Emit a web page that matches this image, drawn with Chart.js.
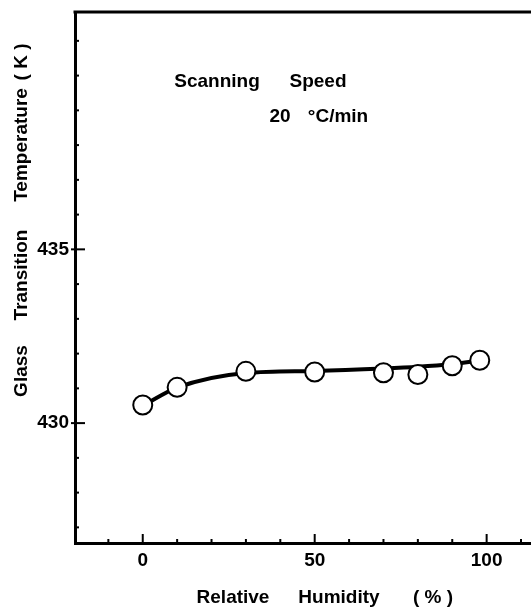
<!DOCTYPE html>
<html lang="en">
<head>
<meta charset="UTF-8">
<title>Glass Transition vs Relative Humidity</title>
<script src="https://cdn.jsdelivr.net/npm/chart.js"></script>
<style>
    body { margin: 0; background: #fff; }
    #wrap { width: 531px; height: 608px; }
</style>
</head>
<body>
<div id="wrap"><canvas id="myChart" width="531" height="608"></canvas></div>
<script>
// measured points (relative humidity %, Tg in K)
const humidity = [0, 10, 30, 50, 70, 80, 90, 98];
const tgValues = [430.52, 431.03, 431.49, 431.47, 431.45, 431.40, 431.65, 431.81];

// hand drawn smooth curve through the points
const curveX = [0, 10, 30, 50, 70, 80, 90, 98];
const curveY = [430.5, 431.02, 431.44, 431.5, 431.57, 431.62, 431.7, 431.8];

const xTickLabels = [0, 50, 100];
const yTickLabels = [430, 435];

const FONT = 'Liberation Sans';

// words placed by their centre, as in the figure
function words(ctx, list, y) {
    list.forEach(w => ctx.fillText(w[0], w[1], y));
}

// inward tick marks, frame top line and free text
const decor = {
    id: 'decor',
    afterDraw(chart) {
        const ctx = chart.ctx;
        const xs = chart.scales.x, ys = chart.scales.y;
        const a = chart.chartArea;
        ctx.save();
        ctx.strokeStyle = '#000';
        ctx.lineWidth = 2;
        for (let v = -10; v <= 110; v += 10) {
            const px = xs.getPixelForValue(v);
            const len = xTickLabels.includes(v) ? 9 : 4;
            ctx.beginPath();
            ctx.moveTo(px, a.bottom);
            ctx.lineTo(px, a.bottom - len);
            ctx.stroke();
        }
        for (let v = 427; v <= 441; v++) {
            const py = ys.getPixelForValue(v);
            const major = yTickLabels.includes(v);
            ctx.beginPath();
            ctx.moveTo(major ? a.left - 4 : a.left, py);
            ctx.lineTo(a.left + (major ? 10 : 4), py);
            ctx.stroke();
        }
        // top frame line
        ctx.lineWidth = 3;
        ctx.beginPath();
        ctx.moveTo(a.left - 1.5, a.top);
        ctx.lineTo(a.right, a.top);
        ctx.stroke();

        ctx.fillStyle = '#000';
        ctx.font = 'bold 19px ' + FONT;
        ctx.textBaseline = 'middle';
        ctx.textAlign = 'center';
        words(ctx, [['Scanning', 217], ['Speed', 318]], 82);
        words(ctx, [['20', 280], ['\u00b0C/min', 338]], 117);

        // x axis title
        words(ctx, [['Relative', 233], ['Humidity', 339], ['( % )', 433]], 598);

        // y axis title, rotated
        ctx.translate(22, 0);
        ctx.rotate(-Math.PI / 2);
        words(ctx, [['Glass', -371], ['Transition', -275], ['Temperature', -145], ['( K )', -62]], 0);
        ctx.restore();
    }
};

const ctx = document.getElementById('myChart').getContext('2d');
new Chart(ctx, {
    type: 'scatter',
    data: {
        datasets: [{
            type: 'line',
            order: 2,
            data: curveX.map((x, i) => ({ x: x, y: curveY[i] })),
            borderColor: '#000',
            borderWidth: 4,
            pointRadius: 0,
            cubicInterpolationMode: 'monotone',
            fill: false
        }, {
            order: 1,
            data: humidity.map((x, i) => ({ x: x, y: tgValues[i] })),
            backgroundColor: '#fff',
            borderColor: '#000',
            borderWidth: 2,
            pointRadius: 9.5,
            pointHoverRadius: 9.5
        }]
    },
    options: {
        responsive: false,
        animation: false,
        layout: { autoPadding: false, padding: { top: 12, right: 0, left: 0, bottom: 0 } },
        plugins: { legend: { display: false }, tooltip: { enabled: false } },
        scales: {
            x: {
                type: 'linear',
                min: -19.7,
                max: 112.9,
                afterFit(scale) {
                    scale.height = 65;
                    scale.paddingLeft = 0;
                    scale.paddingRight = 0;
                },
                grid: { display: false, drawTicks: false },
                border: { display: true, color: '#000', width: 3 },
                ticks: {
                    stepSize: 10,
                    includeBounds: false,
                    autoSkip: false,
                    maxRotation: 0,
                    padding: 6,
                    color: '#000',
                    font: { family: FONT, weight: 'bold', size: 19 },
                    callback: v => xTickLabels.includes(v) ? String(v) : ''
                }
            },
            y: {
                type: 'linear',
                min: 426.55,
                max: 441.83,
                afterFit(scale) {
                    scale.width = 75;
                    scale.paddingTop = 0;
                    scale.paddingBottom = 0;
                },
                grid: { display: false, drawTicks: false },
                border: { display: true, color: '#000', width: 3 },
                ticks: {
                    stepSize: 1,
                    includeBounds: false,
                    autoSkip: false,
                    padding: 6,
                    color: '#000',
                    font: { family: FONT, weight: 'bold', size: 19 },
                    callback: v => yTickLabels.includes(v) ? String(v) : ''
                }
            }
        }
    },
    plugins: [decor]
});
</script>
</body>
</html>
